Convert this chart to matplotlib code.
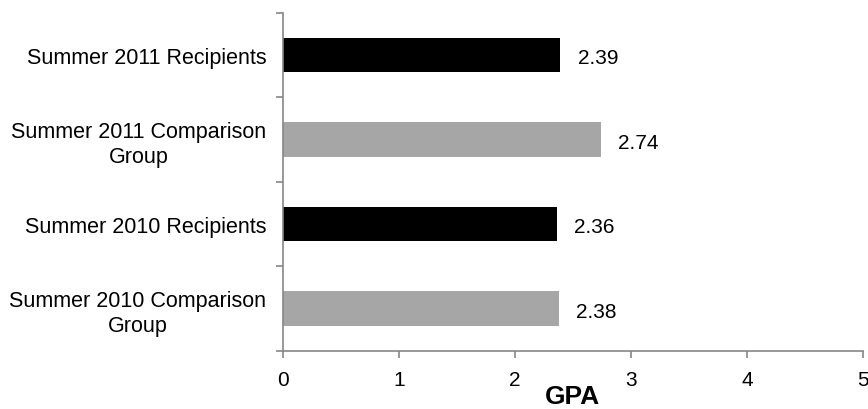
import numpy as np
import matplotlib.pyplot as plt

categories = ["Summer 2011 Recipients", "Summer 2011 Comparison\nGroup",
              "Summer 2010 Recipients", "Summer 2010 Comparison\nGroup"]
gpa = [2.39, 2.74, 2.36, 2.38]
colors = ["#000000", "#A6A6A6", "#000000", "#A6A6A6"]
x_ticks = [0, 1, 2, 3, 4, 5]

plt.rcParams['font.family'] = ['Liberation Sans', 'DejaVu Sans']

fig = plt.figure(figsize=(8.68, 4.10), dpi=100)
ax = fig.add_axes([0.326, 0.142, 0.668, 0.824])

y = np.arange(len(categories))
ax.barh(y, gpa, height=0.41, color=colors)
for yi, v in zip(y, gpa):
    ax.text(v + 0.15, yi + 0.03, f"{v:.2f}", va='center', ha='left', fontsize=15)

ax.set_ylim(len(categories) - 0.5, -0.5)
ax.set_xlim(0, 5)
ax.set_xticks(x_ticks)
ax.set_xticklabels([str(t) for t in x_ticks], fontsize=15)

# category labels between boundary ticks (Excel style)
ax.set_yticks(np.arange(len(categories) + 1) - 0.5)
ax.set_yticklabels([])
ax.set_yticks(y, minor=True)
ax.set_yticklabels(categories, minor=True, fontsize=15.5, ha='right',
                   multialignment='center', linespacing=1.25)
ax.tick_params(axis='y', which='minor', length=0, pad=12)
ax.tick_params(axis='y', which='major', length=5, color='#868686', width=1.2)
ax.tick_params(axis='x', length=5, color='#868686', width=1.2, pad=9)

for s in ['top', 'right']:
    ax.spines[s].set_visible(False)
for s in ['left', 'bottom']:
    ax.spines[s].set_color('#868686')
    ax.spines[s].set_linewidth(1.2)

ax.set_xlabel("GPA", fontsize=19, fontweight='bold', labelpad=-4)

plt.savefig("out.png", dpi=100)
